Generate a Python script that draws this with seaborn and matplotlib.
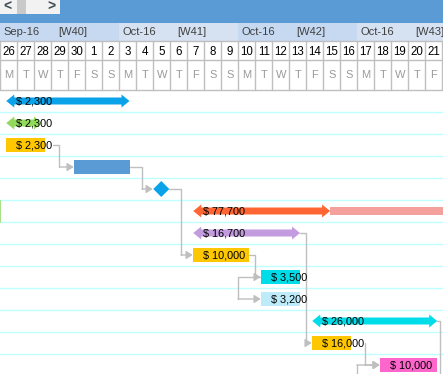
import numpy as np
import pandas as pd
import matplotlib
matplotlib.use("Agg")
import matplotlib.pyplot as plt
from matplotlib.patches import Polygon, Rectangle
import seaborn as sns

# timeline shown in the header
dates = pd.date_range("2016-09-26", periods=26, freq="D")
day_letters = ["M", "T", "W", "T", "F", "S", "S"]
week_months = ["Sep-16", "Oct-16", "Oct-16", "Oct-16"]
week_labels = ["[W40]", "[W41]", "[W42]", "[W43]"]
week_shades = ["#C6D9F1", "#D6E1F1", "#C6D9F1", "#D6E1F1"]

# one task per row, start / finish in days counted from 26 Sep
task_kind = ["arrow", "arrow", "bar", "bar", "milestone", "arrow", "arrow",
             "bar", "bar", "bar", "arrow", "bar", "bar"]
task_start = [0.35, 0.35, 0.35, 4.35, 9.47, 11.35, 11.35,
              11.35, 15.35, 15.35, 18.35, 18.35, 22.35]
task_finish = [7.6, 2.45, 2.63, 7.63, 9.47, 19.4, 17.63,
               14.6, 17.63, 17.63, 25.7, 20.63, 25.67]
task_cost = ["$ 2,300", "$ 2,300", "$ 2,300", "", "", "$ 77,700", "$ 16,700",
             "$ 10,000", "$ 3,500", "$ 3,200", "$ 26,000", "$ 16,000", "$ 10,000"]
task_color = ["#0AA3EA", "#92DA5C", "#FFC700", "#5B9BD5", "#0AA3EA", "#FF6633",
              "#C39BDF", "#FFC700", "#00DDE8", "#BDEBFA", "#00DDE8", "#FFC700",
              "#FF66CC"]
# row 6 runs late: pale overrun bar after the arrow
overrun_row = 5
overrun_finish = 27.0

# dependency links (row 13 is the first row below the visible area)
link_src = [2, 3, 4, 7, 8, 6, 11, 10, 13]
link_dst = [3, 4, 7, 8, 9, 11, 12, 13, 12]
link_type = ["FS", "FS", "FS", "FS", "SS", "FS", "FS", "FS", "FS"]
link_elbow = [3.48, 8.34, 10.63, 14.98, 13.98, 17.98, 21.45, 25.84, 20.97]

W, H = 443, 374
COL = 17.0       # pixels per day
X0 = 0.3         # pixel of first column edge
ROW0, ROWH = 101, 22

sns.set_theme(style="white")
plt.rcParams["font.family"] = ["Liberation Sans", "DejaVu Sans"]

fig = plt.figure(figsize=(W / 100, H / 100), dpi=100)
ax = fig.add_axes([0, 0, 1, 1])
ax.set_xlim(-X0 / COL, (W - X0) / COL)
ax.set_ylim(H, 0)
ax.axis("off")


def dx(px):
    return px / COL


def row_y(i):
    return ROW0 + ROWH * i


line_grey = "#BFBFBF"

# ---- header ----
ax.add_patch(Rectangle((-1, 0), 30, 22.5, color="#5B9BD5", lw=0, zorder=1))
ax.add_patch(Rectangle((-1, 0), 1 + dx(60), 14.3, color="#F2F2F2", lw=0, zorder=2))
ax.add_patch(Rectangle((dx(17), 0), dx(9), 14.3, color="#C9C9C9", lw=0, zorder=3))
ax.text(dx(7), 7, "<", ha="center", va="center", fontsize=10, fontweight="bold",
        color="#3E4B52", zorder=4)
ax.text(dx(51), 7, ">", ha="center", va="center", fontsize=10, fontweight="bold",
        color="#3E4B52", zorder=4)

for w in range(len(week_labels)):
    x = 7 * w
    ax.add_patch(Rectangle((x - (0.02 if w == 0 else 0), 22.5), 7, 18.5,
                           color=week_shades[w], lw=0, zorder=1))
    ax.text(x + dx(3.5), 32, week_months[w], ha="left", va="center",
            fontsize=8, color="#404040", zorder=2)
    ax.text(x + dx(58), 32, week_labels[w], ha="left", va="center",
            fontsize=8, color="#404040", zorder=2)

for i, d in enumerate(dates):
    ax.text(i + 0.5, 51.5, str(d.day), ha="center", va="center",
            fontsize=8.3, color="black", zorder=2)
    ax.text(i + 0.5, 75, day_letters[d.weekday()], ha="center", va="center",
            fontsize=8, color="#9A9A9A", zorder=2)
    ax.plot([i, i], [41, 90], color=line_grey, lw=1, zorder=2)
ax.plot([len(dates), len(dates)], [41, 90], color=line_grey, lw=1, zorder=2)
for y in [41, 60, 90]:
    ax.axhline(y, color=line_grey, lw=1, zorder=2)

# ---- body grid ----
for k in range(1, 14):
    ax.axhline(90 + ROWH * k, color="#BFFFFF", lw=1, zorder=1)
ax.plot([-0.015, -0.015], [row_y(5) - 10.5, row_y(5) + 10.5], color="#A9E08A",
        lw=1.5, zorder=2)

# ---- tasks ----
labels = {}
for i, kind in enumerate(task_kind):
    y = row_y(i)
    s, f = task_start[i], task_finish[i]
    c = task_color[i]
    if kind == "bar":
        ax.barh(y, f - s, left=s, height=14, color=c, lw=0, zorder=3)
    elif kind == "milestone":
        hw = dx(8)
        ax.add_patch(Polygon([(s - hw, y), (s, y - 8), (s + hw, y), (s, y + 8)],
                             closed=True, color=c, lw=0, zorder=3))
    else:
        if i == overrun_row:
            ax.barh(y, overrun_finish - f, left=f, height=7.5,
                    color="#F4A19D", lw=0, zorder=3)
        hl = dx(8)
        sh, hh = 3.5, 6.5
        pts = [(s, y), (s + hl, y - hh), (s + hl, y - sh), (f - hl, y - sh),
               (f - hl, y - hh), (f, y), (f - hl, y + hh), (f - hl, y + sh),
               (s + hl, y + sh), (s + hl, y + hh)]
        ax.add_patch(Polygon(pts, closed=True, color=c, lw=0, zorder=3))
    if task_cost[i]:
        labels[i] = ax.annotate(task_cost[i], (s, y), xytext=(10 * 0.72, 0),
                                textcoords="offset points", ha="left", va="center",
                                fontsize=7.8, color="black", zorder=5)

# label ends so links start after overflowing text
fig.canvas.draw()
inv = ax.transData.inverted()
label_end = {}
for i, t in labels.items():
    bb = t.get_window_extent()
    label_end[i] = inv.transform((bb.x1, 0))[0]

n = len(task_kind)


def right_edge(i):
    if task_kind[i] == "milestone":
        return task_finish[i] + dx(8)
    return max(task_finish[i], label_end.get(i, -1) + dx(1))


def left_edge(i):
    if task_kind[i] == "milestone":
        return task_start[i] - dx(8)
    return task_start[i]


arrow_kw = dict(arrowstyle="-|>,head_length=0.32,head_width=0.2", color=line_grey,
                lw=1, shrinkA=0, shrinkB=0)
for src, dst, kind, e in zip(link_src, link_dst, link_type, link_elbow):
    ys, yd = row_y(src), row_y(dst)
    if src >= n:
        x_from = e
    elif kind == "SS":
        x_from = left_edge(src) - dx(1)
    else:
        x_from = right_edge(src)
    ax.plot([x_from, e, e], [ys, ys, yd], color=line_grey, lw=1, zorder=2)
    if dst < n:
        x_to = left_edge(dst) - dx(0.5)
        ax.annotate("", xy=(x_to, yd), xytext=(e, yd), arrowprops=arrow_kw, zorder=2)

fig.savefig("out.png", dpi=100)
